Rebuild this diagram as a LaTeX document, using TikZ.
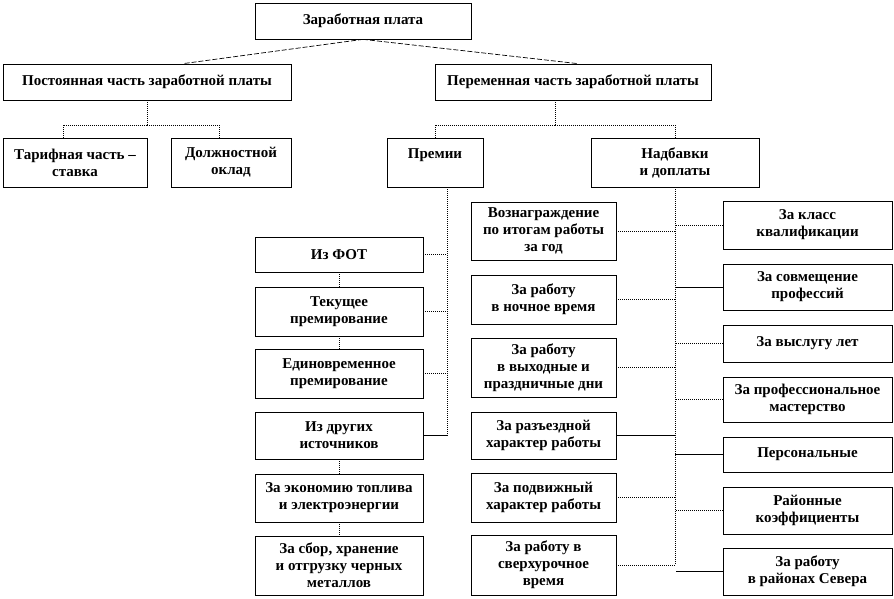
\documentclass[tikz,border=0pt]{standalone}
\usepackage{fontspec}
\setmainfont{Liberation Serif}
\usetikzlibrary{calc}
\tikzset{
  box/.style={draw=black, line width=0.7pt, fill=white, align=center, inner sep=1pt,
    font=\bfseries\fontsize{15}{17}\selectfont},
  dl/.style={line width=1pt, dash pattern=on 1pt off 1pt},
  sl/.style={line width=0.8pt},
  tl/.style={line width=0.7pt, dash pattern=on 5pt off 2pt},
}
\newcommand{\bx}[6]{\node[box, minimum width=#4pt, minimum height=#5pt] (#1) at (#2pt,-#3pt) {#6};}
\begin{document}
\begin{tikzpicture}[x=1pt,y=1pt]
\useasboundingbox (0,0) rectangle (894,-599);
% top level
\bx{top}{363}{21}{216}{36}{Заработная плата}
\bx{post}{147}{82}{288}{36}{Постоянная часть заработной платы}
\bx{per}{573}{82}{276}{36}{Переменная часть заработной платы}
\bx{tar}{75}{162.5}{144}{49}{Тарифная часть –\\ставка}
\bx{dol}{231}{162.5}{120}{49}{Должностной\\оклад}
\bx{prem}{435}{162.5}{96}{49}{Премии\\~}
\bx{nad}{675}{162.5}{168}{49}{Надбавки\\и доплаты}
% left column
\bx{fot}{339}{254.5}{168}{35}{Из ФОТ}
\bx{tek}{339}{311.5}{168}{49}{Текущее\\премирование}
\bx{edin}{339}{373.5}{168}{49}{Единовременное\\премирование}
\bx{dr}{339}{435.5}{168}{47}{Из других\\источников}
\bx{ek}{339}{498}{168}{48}{За экономию топлива\\и электроэнергии}
\bx{sb}{339}{565.5}{168}{59}{За сбор, хранение\\и отгрузку черных\\металлов}
% middle column
\bx{voz}{543.5}{231}{145}{58}{Вознаграждение\\по итогам работы\\за год}
\bx{noch}{543.5}{299.5}{145}{49}{За работу\\в ночное время}
\bx{vyh}{543.5}{367.5}{145}{59}{За работу\\в выходные и\\праздничные дни}
\bx{raz}{543.5}{435.5}{145}{47}{За разъездной\\характер работы}
\bx{podv}{543.5}{497.5}{145}{49}{За подвижный\\характер работы}
\bx{sverh}{543.5}{565}{145}{60}{За работу в\\сверхурочное\\время}
% right column
\bx{kl}{807.5}{225}{169}{48}{За класс\\квалификации}
\bx{sov}{807.5}{287}{169}{46}{За совмещение\\профессий}
\bx{vysl}{807.5}{343.5}{169}{37}{За выслугу лет}
\bx{mast}{807.5}{399.5}{169}{45}{За профессиональное\\мастерство}
\bx{pers}{807.5}{454.5}{169}{35}{Персональные}
\bx{raj}{807.5}{510.5}{169}{47}{Районные\\коэффициенты}
\bx{sev}{807.5}{571.5}{169}{47}{За работу\\в районах Севера}
% top connectors
\draw[tl] (top.south) -- ($(post.north)+(36,0)$);
\draw[tl] (top.south) -- ($(per.north)+(5,0)$);
% constant part
\draw[dl] (post.south) -- ++(0,-25) coordinate (pj);
\draw[dl] (pj) -| ($(tar.north)+(-12,0)$);
\draw[dl] (pj) -| ($(dol.north)+(-12,0)$);
% variable part
\draw[dl] ($(per.south)+(-18,0)$) -- ++(0,-25) coordinate (vj);
\draw[dl] (vj) -| (prem.north);
\draw[dl] (vj) -| (nad.north);
% premii branch
\coordinate (pv) at ($(prem.south)+(12,0)$);
\draw[dl] (pv) -- (pv |- dr.east);
\draw[dl] (fot.east) -- (fot.east -| pv);
\draw[dl] (tek.east) -- (tek.east -| pv);
\draw[dl] (edin.east) -- (edin.east -| pv);
\draw[sl] (dr.east) -- (dr.east -| pv);
\draw[dl] (fot.south) -- (tek.north);
\draw[dl] (tek.south) -- (edin.north);
\draw[dl] (dr.south) -- (ek.north);
\draw[dl] (ek.south) -- (sb.north);
% nadbavki branch
\coordinate (nv) at (nad.south);
\draw[dl] (nv) -- (nv |- sverh.east);
\draw[dl] (voz.east) -- (voz.east -| nv);
\draw[dl] (noch.east) -- (noch.east -| nv);
\draw[dl] (vyh.east) -- (vyh.east -| nv);
\draw[sl] (raz.east) -- (raz.east -| nv);
\draw[dl] (podv.east) -- (podv.east -| nv);
\draw[dl] (sverh.east) -- (sverh.east -| nv);
\draw[dl] (kl.west) -- (kl.west -| nv);
\draw[sl] (sov.west) -- (sov.west -| nv);
\draw[dl] (vysl.west) -- (vysl.west -| nv);
\draw[dl] (mast.west) -- (mast.west -| nv);
\draw[sl] (pers.west) -- (pers.west -| nv);
\draw[dl] (raj.west) -- (raj.west -| nv);
\coordinate (sevend) at ($(sev.west -| nv)+(1,0)$);
\draw[sl] (sev.west) -- (sevend);
\end{tikzpicture}
\end{document}
